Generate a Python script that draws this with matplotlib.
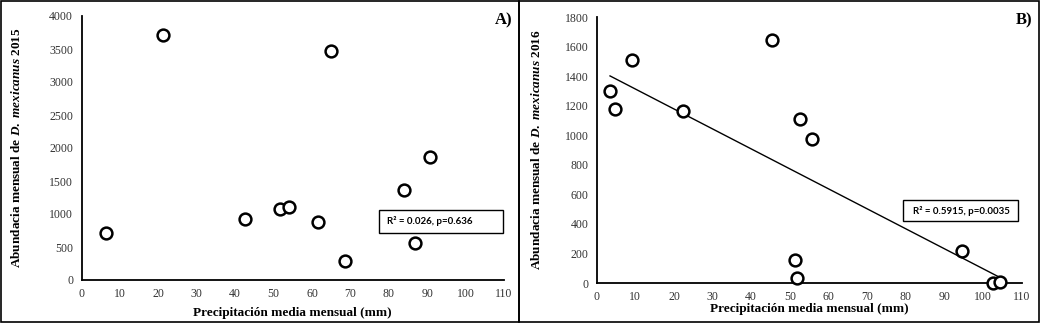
import numpy as np
import matplotlib
matplotlib.use('Agg')
import matplotlib.pyplot as plt
from matplotlib.patches import Rectangle

plt.rcParams['font.family'] = 'Liberation Serif'
plt.rcParams['mathtext.fontset'] = 'custom'
plt.rcParams['mathtext.rm'] = 'Liberation Serif:bold'
plt.rcParams['mathtext.it'] = 'Liberation Serif:bold:italic'

# Panel A: 2015
precip_2015 = [6.5, 21.2, 64.9, 42.6, 51.8, 54.1, 61.7, 68.5, 83.9, 86.8, 90.8]
abund_2015 = [717, 3717, 3470, 929, 1081, 1101, 874, 288, 1359, 561, 1869]

# Panel B: 2016
precip_2016 = [3.45, 4.75, 9.15, 22.4, 45.5, 52.6, 55.65, 51.4, 51.9, 94.65, 102.7, 104.4]
abund_2016 = [1300, 1180, 1508, 1162, 1644, 1108, 972, 154, 34, 217, 0, 7]

W, H = 1040, 323
fig = plt.figure(figsize=(W / 100, H / 100), dpi=100)


def fx(x):
    return x / W


def fy(y):
    return 1 - y / H


def make_axes(x0, x1, ytop, ybot):
    return fig.add_axes([fx(x0), fy(ybot), fx(x1) - fx(x0), fy(ytop) - fy(ybot)])


axA = make_axes(81.5, 504, 16, 280)
axB = make_axes(596.7, 1021.7, 17, 283)

panels = [
    (axA, precip_2015, abund_2015, 4000, 500, '2015'),
    (axB, precip_2016, abund_2016, 1800, 200, '2016'),
]

for ax, x, y, ymax, ystep, year in panels:
    ax.plot(x, y, 'o', mfc='white', mec='black', ms=8.5, mew=1.8, clip_on=False, zorder=3)
    ax.set_xlim(0, 110)
    ax.set_ylim(0, ymax)
    ax.set_xticks(np.arange(0, 111, 10))
    ax.set_yticks(np.arange(0, ymax + 1, ystep))
    ax.tick_params(length=0, labelsize=8.5, colors='#333333', pad=6)
    for s in ['top', 'right']:
        ax.spines[s].set_visible(False)
    for s in ['left', 'bottom']:
        ax.spines[s].set_linewidth(1.3)
    ax.set_xlabel('Precipitación media mensual (mm)', fontsize=9.5, fontweight='bold')
    ax.set_ylabel(r'Abundacia mensual de $\mathit{D.\ mexicanus}$ ' + year,
                  fontsize=9.5, fontweight='bold')
    ax.patch.set_visible(False)

axA.yaxis.set_label_coords(-0.138, 0.5)
axA.xaxis.set_label_coords(0.5, -0.102)
axB.yaxis.set_label_coords(-0.127, 0.5)
axB.xaxis.set_label_coords(0.5, -0.077)

# trendline for 2016
m, b = np.polyfit(precip_2016, abund_2016, 1)
xs = np.array([min(precip_2016), max(precip_2016)])
axB.plot(xs, m * xs + b, color='black', lw=1, zorder=2)

# stat boxes
boxes = [
    (379, 503, 210, 233, 387, 'R² = 0.026, p=0.636'),
    (903, 1018, 200, 221, 913, 'R² = 0.5915, p=0.0035'),
]
for x0, x1, y0, y1, tx, txt in boxes:
    fig.patches.append(Rectangle((fx(x0), fy(y1)), fx(x1) - fx(x0), fy(y0) - fy(y1),
                                 transform=fig.transFigure, fill=True, fc='white',
                                 ec='black', lw=1, zorder=5))
    fig.text(fx(tx), fy((y0 + y1) / 2), txt, fontsize=7, fontweight='bold',
             family='Lato', va='center', ha='left', zorder=6)

# panel tags
fig.text(fx(512), fy(20), 'A)', fontsize=12, fontweight='bold', ha='right', va='center')
fig.text(fx(1032), fy(20), 'B)', fontsize=12, fontweight='bold', ha='right', va='center')

# panel borders
for x0, x1 in [(1, 519), (519, 1039)]:
    fig.patches.append(Rectangle((fx(x0), fy(321.5)), fx(x1) - fx(x0), fy(0.5) - fy(321.5),
                                 transform=fig.transFigure, fill=False, ec='black', lw=1.2))

fig.savefig('out.png', dpi=100)
